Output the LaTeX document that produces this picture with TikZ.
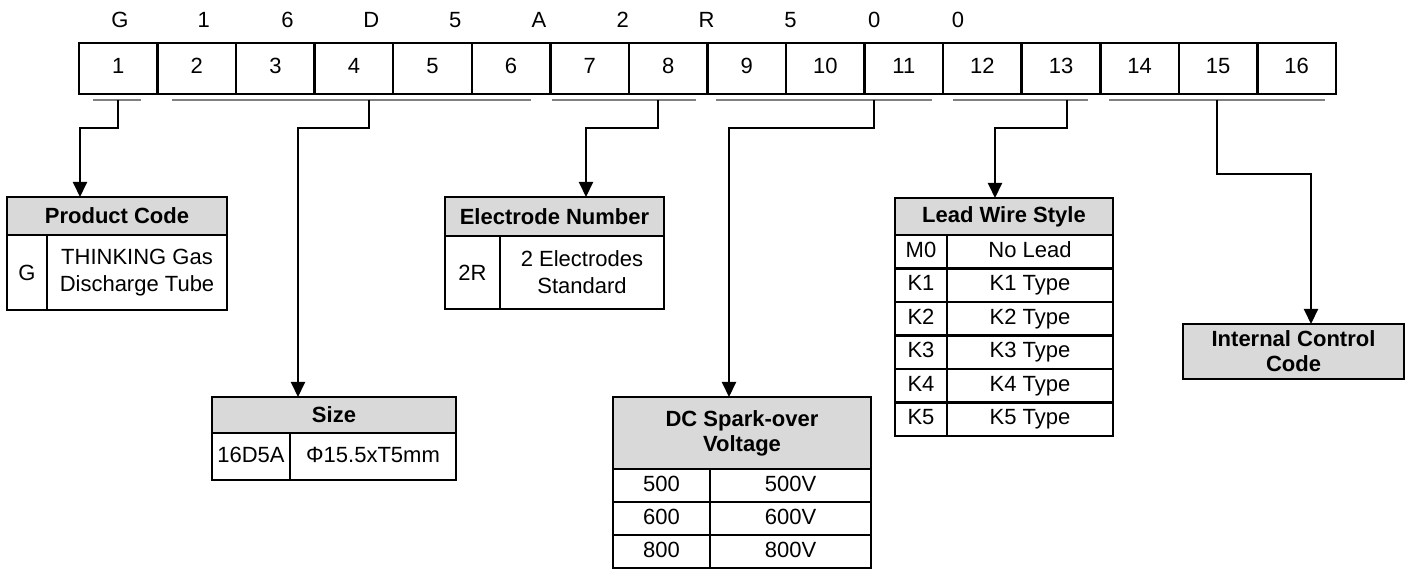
\documentclass[tikz,border=0pt]{standalone}
\usepackage{fontspec}
\setmainfont{Liberation Sans}
\usetikzlibrary{arrows.meta}

\tikzset{
  cell/.style={draw,line width=2.5pt,inner sep=0pt,outer sep=0pt,anchor=north west,align=center},
  row/.style={cell,text height=16pt,text depth=5pt},
  head/.style={cell,fill=black!15,font=\fontsize{22}{25}\selectfont\bfseries},
  bar/.style={draw=black!50,line width=2pt},
  link/.style={line width=2pt,-{Triangle[width=14pt,length=15pt]}}
}

\begin{document}
\begin{tikzpicture}[x=1pt,y=-1pt,font=\fontsize{22}{27}\selectfont]
\useasboundingbox (0,0) rectangle (1409,569);

\foreach \l [count=\k] in {G,1,6,D,5,A,2,R,5,0,0}
  \node (code\k) at ({120+(\k-1)*83.8},20) {\l};
\foreach \i in {1,...,16}
  \node [row,minimum width=78.56pt,minimum height=51pt] (pos\i) at ({79+(\i-1)*78.56},43) {\i};

\draw [bar] (  93,100) -- ( 141,100);
\draw [bar] ( 172,100) -- ( 531,100);
\draw [bar] ( 552,100) -- ( 696,100);
\draw [bar] ( 716,100) -- ( 932,100);
\draw [bar] ( 953,100) -- (1088,100);
\draw [bar] (1109,100) -- (1325,100);

\coordinate (s1) at ( 118,100); \coordinate (k1) at (  80,128);
\coordinate (s2) at ( 369,100); \coordinate (k2) at ( 298,128);
\coordinate (s3) at ( 658,100); \coordinate (k3) at ( 586,128);
\coordinate (s4) at ( 874,100); \coordinate (k4) at ( 729,128);
\coordinate (s5) at (1067,100); \coordinate (k5) at ( 995,128);
\coordinate (s6) at (1217,100); \coordinate (k6) at (1311,174);

\node [head,minimum width=220pt,minimum height=38pt] (prod)  at (   7,197) {Product Code};
\node [cell,minimum width=40pt, minimum height=75pt] (prodk) at (   7,235) {G};
\node [cell,minimum width=180pt,minimum height=75pt] (prodv) at (  47,235) {THINKING Gas\\ Discharge Tube};

\node [head,minimum width=244pt,minimum height=36pt] (size)  at ( 212,397) {Size};
\node [row,minimum width=78pt, minimum height=47pt]  (sizek) at ( 212,433) {16D5A};
\node [row,minimum width=166pt,minimum height=47pt]  (sizev) at ( 290,433) {Φ15.5xT5mm};

\node [head,minimum width=219pt,minimum height=39pt] (elec)  at ( 445,197) {Electrode Number};
\node [cell,minimum width=55pt, minimum height=73pt] (eleck) at ( 445,236) {2R};
\node [cell,minimum width=164pt,minimum height=73pt] (elecv) at ( 500,236) {2 Electrodes\\ Standard};

\node [head,minimum width=258pt,minimum height=72pt] (volt)  at ( 613,397) {DC Spark-over\\ Voltage};
\foreach \v [count=\r] in {500,600,800} {
  \node [row,minimum width=97pt, minimum height=33pt] (voltk\r) at (613,{469+(\r-1)*33}) {\v};
  \node [row,minimum width=161pt,minimum height=33pt] (voltv\r) at (710,{469+(\r-1)*33}) {\v V};
}

\node [head,minimum width=218pt,minimum height=37pt] (lead)  at ( 895,198) {Lead Wire Style};
\foreach \k/\v [count=\r] in {M0/No Lead,K1/K1 Type,K2/K2 Type,K3/K3 Type,K4/K4 Type,K5/K5 Type} {
  \node [row,minimum width=52pt, minimum height=33.5pt] (leadk\r) at (895,{235+(\r-1)*33.5}) {\k};
  \node [row,minimum width=166pt,minimum height=33.5pt] (leadv\r) at (947,{235+(\r-1)*33.5}) {\v};
}

\node [head,minimum width=221pt,minimum height=55pt] (ctrl)  at (1183,324) {Internal Control\\ Code};

\draw [link] (s1) |- (k1) -- (k1 |- prod.north);
\draw [link] (s2) |- (k2) -- (k2 |- size.north);
\draw [link] (s3) |- (k3) -- (k3 |- elec.north);
\draw [link] (s4) |- (k4) -- (k4 |- volt.north);
\draw [link] (s5) |- (k5) -- (k5 |- lead.north);
\draw [link] (s6) |- (k6) -- (k6 |- ctrl.north);
\end{tikzpicture}
\end{document}
